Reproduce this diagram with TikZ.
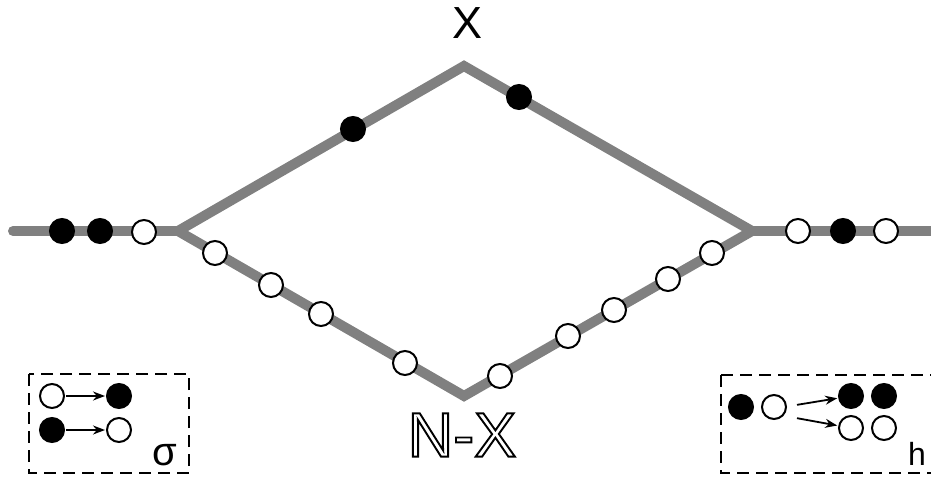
\documentclass[tikz,border=0pt]{standalone}
\usepackage{fontspec}
\setmainfont{Liberation Sans}
\usetikzlibrary{arrows.meta}
\newcommand{\hollowtext}[1]{\special{pdf:literal direct q 1 Tr 1.9 w 0 G}#1\special{pdf:literal direct Q}}
\tikzset{
  track/.style={draw={rgb,255:red,128;green,128;blue,128}, line width=10pt, line join=miter},
  full/.style={circle, fill=black, draw=black, line width=2pt, minimum size=24pt, inner sep=0pt},
  empty/.style={circle, fill=white, draw=black, line width=2pt, minimum size=24pt, inner sep=0pt},
  legend/.style={draw=black, line width=1.5pt, dash pattern=on 12pt off 7pt},
  arr/.style={-{Stealth[length=12pt,width=9pt]}, line width=1.8pt, shorten <=1pt, shorten >=1pt}
}
\begin{document}
\begin{tikzpicture}[x=1pt,y=-1pt]
\useasboundingbox (0,0) rectangle (931,479);
% track coordinates
\coordinate (L) at (13,231);
\coordinate (J1) at (178,231);
\coordinate (T) at (464,66);
\coordinate (B) at (464,396);
\coordinate (J2) at (752,231);
\coordinate (R) at (940,231);
\draw[track, line cap=round] (L) -- (J1);
\draw[track] (J2) -- (R);
\draw[track] (J1) -- (T) -- (J2);
\draw[track] (J1) -- (B) -- (J2);
% beads
\node[full] (a1) at (62,231) {};
\node[full] (a2) at (100,231) {};
\node[empty] (a3) at (144,232) {};
\node[full] (t1) at (353,129) {};
\node[full] (t2) at (519,97) {};
\node[empty] (r1) at (798,231) {};
\node[full] (r2) at (843,231) {};
\node[empty] (r3) at (886,231) {};
\node[empty] (b1) at (215,253) {};
\node[empty] (b2) at (271,285) {};
\node[empty] (b3) at (321,314) {};
\node[empty] (b4) at (405,363) {};
\node[empty] (b5) at (500,376) {};
\node[empty] (b6) at (568,336) {};
\node[empty] (b7) at (614,310) {};
\node[empty] (b8) at (668,279) {};
\node[empty] (b9) at (712,253) {};
% labels
\node[font=\fontsize{45}{45}\selectfont, inner sep=0pt] (lx) at (468,23) {X};
\node[font=\fontsize{63}{63}\selectfont, inner sep=0pt] (lnx) at (462,435) {\hollowtext{N-X}};
% left legend
\draw[legend] (29,374) rectangle (189,473);
\node[empty] (s1) at (52,396) {};
\node[full] (s2) at (119,396) {};
\node[full] (s3) at (52,430) {};
\node[empty] (s4) at (119,430) {};
\draw[arr] (s1) -- (s2);
\draw[arr] (s3) -- (s4);
\node[font=\fontsize{40}{40}\selectfont, inner sep=0pt, anchor=base] (sig) at (165,465) {σ};
% right legend
\draw[legend] (721,375) -- (721,473) -- (945,473);
\draw[legend] (721,375) -- (945,375);
\node[full] (h1) at (741,407) {};
\node[empty] (h2) at (774,407) {};
\node[full] (h3) at (851,396) {};
\node[full] (h4) at (884,396) {};
\node[empty] (h5) at (851,428) {};
\node[empty] (h6) at (884,428) {};
\coordinate (ha) at (796,405);
\coordinate (hb) at (796,418);
\draw[arr] (ha) -- (h3);
\draw[arr] (hb) -- (h5);
\node[font=\fontsize{32}{32}\selectfont, inner sep=0pt, anchor=base] (hh) at (917,465) {h};
\end{tikzpicture}
\end{document}
